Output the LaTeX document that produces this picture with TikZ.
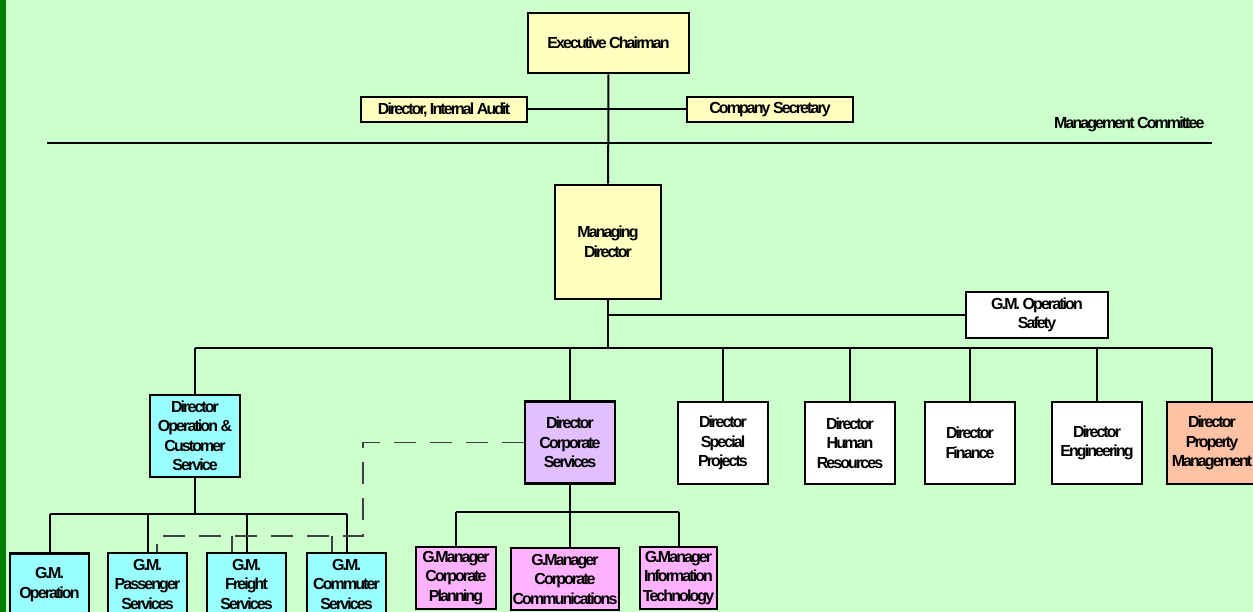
\documentclass[tikz,border=0pt]{standalone}
\usepackage{fontspec}
\setmainfont{Liberation Sans}[LetterSpace=-12]
\usepackage{tikz}
\usetikzlibrary{calc}
\definecolor{bggreen}{RGB}{204, 255, 204}
\definecolor{bargreen}{RGB}{0, 128, 0}
\definecolor{boxyellow}{RGB}{255, 255, 192}
\definecolor{boxcyan}{RGB}{153, 255, 255}
\definecolor{boxlilac}{RGB}{226, 192, 255}
\definecolor{boxpink}{RGB}{255, 179, 255}
\definecolor{boxpeach}{RGB}{255, 194, 164}

\begin{document}
\begin{tikzpicture}[x=1pt, y=-1pt,
    post/.style={draw, line width=2.6pt, inner sep=0pt, align=center,
        font=\fontsize{16}{19.5}\selectfont\bfseries},
    link/.style={line width=2pt},
    dashlink/.style={line width=1.1pt, black!75, dash pattern=on 22pt off 14pt}]
% Page
\useasboundingbox (0,0) rectangle (1253,612);
\clip (0,0) rectangle (1253,612);
\fill[bggreen] (0,0) rectangle (1253,612);
\fill[bargreen] (0,0) rectangle (6,612);

% Board level
\node[post, fill=boxyellow, minimum width=161, minimum height=60] (chair) at (608.5,43) {Executive Chairman};
\node[post, fill=boxyellow, minimum width=166, minimum height=25] (audit) at (444,109.5) {Director, Internal Audit};
\node[post, fill=boxyellow, minimum width=166, minimum height=25] (secretary) at (770,109.5) {Company Secretary};
\draw[link] (audit) -- (secretary);

% Management committee rule
\draw[line width=1.5pt] (47,143) -- (1212,143);
\node[font=\fontsize{16}{16}\selectfont\bfseries, anchor=east] (mgmt) at (1208,124) {Management Committee};

% Managing director
\node[post, fill=boxyellow, minimum width=106, minimum height=114] (md) at (608,242) {Managing\\Director};
\draw[link] (chair) -- (md);
\node[post, fill=white, minimum width=142, minimum height=46] (safety) at (1037,315) {G.M. Operation\\Safety};

% Directors
\begin{scope}[every node/.append style={minimum width=90, minimum height=82}]
\node[post, fill=boxcyan] (dops) at (195,436) {Director\\Operation \&\\Customer\\Service};
\node[post, fill=boxlilac] (dcorp) at (570,442.5) {Director\\Corporate\\Services};
\node[post, fill=white] (dproj) at (723,443) {Director\\Special\\Projects};
\node[post, fill=white] (dhr) at (850,443) {Director\\Human\\Resources};
\node[post, fill=white] (dfin) at (970,443) {Director\\Finance};
\node[post, fill=white] (deng) at (1097,443) {Director\\Engineering};
\node[post, fill=boxpeach] (dprop) at (1212,443) {Director\\Property\\Management};
\end{scope}

\coordinate (bus) at (608,348);
\draw[link] (md) -- (md.south |- bus);
\draw[link] (md.south |- safety) -- (safety.west);
\draw[link] (dops.north |- bus) -- (dprop.north |- bus);
\foreach \d in {dops,dcorp,dproj,dhr,dfin,deng,dprop} {
    \draw[link] (\d.north |- bus) -- (\d.north);
}

% Operation & customer service
\begin{scope}[every node/.append style={minimum width=79, minimum height=62}]
\node[post, fill=boxcyan] (gmops) at (49.5,584.5) {G.M.\\Operation};
\node[post, fill=boxcyan] (gmpass) at (147.5,584) {G.M.\\Passenger\\Services};
\node[post, fill=boxcyan] (gmfreight) at (246.5,584) {G.M.\\Freight\\Services};
\node[post, fill=boxcyan] (gmcommuter) at (346.5,584) {G.M.\\Commuter\\Services};
\end{scope}

\coordinate (opsbus) at (0,514);
\draw[link] (dops) -- (dops.south |- opsbus);
\draw[link] (gmops.north |- opsbus) -- (gmcommuter.north |- opsbus);
\foreach \g in {gmops,gmpass,gmfreight,gmcommuter} {
    \draw[link] (\g.north |- opsbus) -- (\g.north);
}

% Corporate services
\begin{scope}[every node/.append style={minimum height=62}]
\node[post, fill=boxpink, minimum width=80] (gmplan) at (456,578) {G.Manager\\Corporate\\Planning};
\node[post, fill=boxpink, minimum width=108] (gmcomm) at (565,579) {G.Manager\\Corporate\\Communications};
\node[post, fill=boxpink, minimum width=77] (gmit) at (678.5,578) {G.Manager\\Information\\Technology};
\end{scope}

\coordinate (corpbus) at (0,512);
\draw[link] (dcorp) -- (dcorp.south |- corpbus);
\draw[link] (gmplan.north |- corpbus) -- (gmit.north |- corpbus);
\draw[link] (gmplan.north |- corpbus) -- (gmplan.north);
\draw[link] (dcorp.south |- corpbus) -- (dcorp.south |- gmcomm.north);
\draw[link] (gmit.north |- corpbus) -- (gmit.north);

% Dashed link to the G.M. boxes
\coordinate (dashbend) at (363,536);
\draw[dashlink] (dcorp.west) -| (dashbend) -| ([xshift=9.5]gmpass.north);
\draw[dashlink] ([xshift=-14.5]gmfreight.north |- dashbend) -- ([xshift=-14.5]gmfreight.north);
\draw[dashlink] ([xshift=-14.5]gmcommuter.north |- dashbend) -- ([xshift=-14.5]gmcommuter.north);
\end{tikzpicture}
\end{document}
